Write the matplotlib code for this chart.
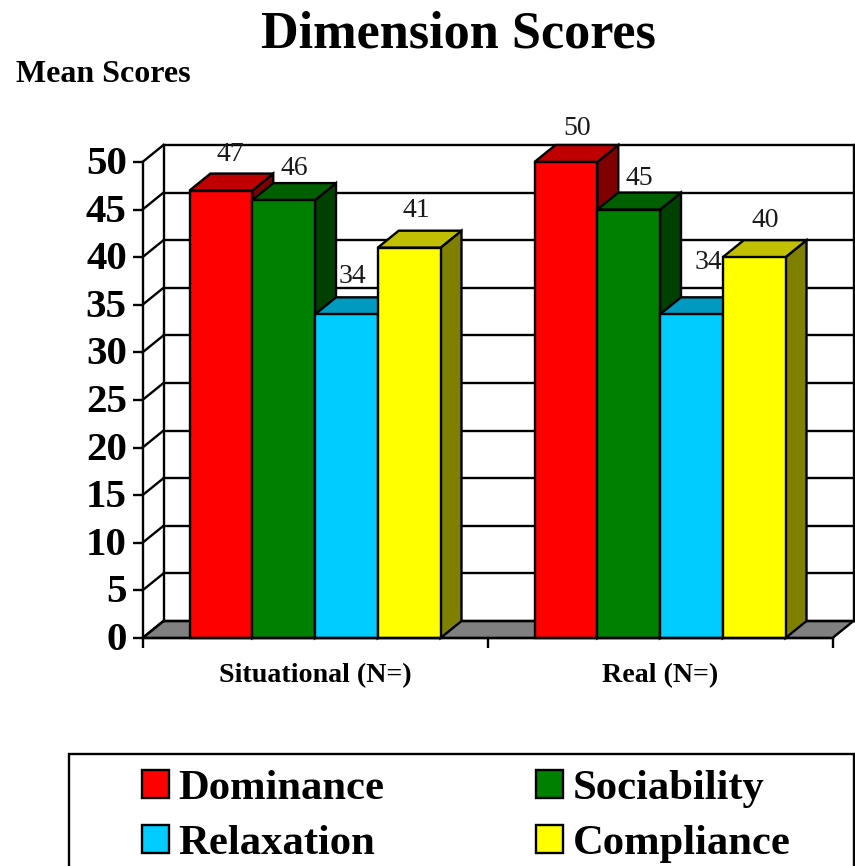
import matplotlib
matplotlib.use("Agg")
import matplotlib.pyplot as plt
from matplotlib.patches import Polygon, Patch, Rectangle
from matplotlib.transforms import ScaledTranslation

categories = ["Situational (N=)", "Real (N=)"]
series = ["Dominance", "Sociability", "Relaxation", "Compliance"]
dominance = [47, 50]
sociability = [46, 45]
relaxation = [34, 34]
compliance = [41, 40]
values = [dominance, sociability, relaxation, compliance]
y_ticks = list(range(0, 51, 5))

front_colors = ["#FF0000", "#008000", "#00CCFF", "#FFFF00"]
top_colors = ["#C00000", "#006000", "#0099C0", "#C0C000"]
side_colors = ["#800000", "#004000", "#006680", "#808000"]

W, H = 855, 866
plt.rcParams["font.family"] = ["Liberation Serif", "DejaVu Serif"]
fig = plt.figure(figsize=(W / 100, H / 100), dpi=100)
L, R, T, B = 142.5, 832.5, 162, 638
ax = fig.add_axes([L / W, 1 - B / H, (R - L) / W, (B - T) / H])
ax.set_xlim(0, 2)
ax.set_ylim(0, 50)

px_x = 2 / (R - L)
px_y = 50 / (B - T)
dx = 21 * px_x
dy = 17 * px_y
lw = 1.7

# back wall
ax.add_patch(Polygon([(dx, dy), (2 + dx, dy), (2 + dx, 50 + dy), (dx, 50 + dy)],
                     fc="white", ec="none", zorder=1, clip_on=False))
ax.add_patch(Polygon([(0, 0), (dx, dy), (2 + dx, dy), (2, 0)],
                     fc="#808080", ec="black", lw=lw, zorder=2, clip_on=False, joinstyle="miter"))
for v in y_ticks:
    ax.plot([dx, 2 + dx], [v + dy, v + dy], color="black", lw=lw, zorder=2, clip_on=False,
            solid_capstyle="projecting")
    ax.plot([0, dx], [v, v + dy], color="black", lw=lw, zorder=2, clip_on=False)
for xx in (dx, 2 + dx):
    ax.plot([xx, xx], [dy, 50 + dy], color="black", lw=lw, zorder=2, clip_on=False,
            solid_capstyle="projecting")

# bars
bar_w = 62.75 * px_x
z = 3
label_nudges = [[(-1, 9), (1, 7)], [(0, 5), (0, 4)], [(-4, 11), (6, 25)], [(-3, 10), (1, 10)]]
for g in range(len(categories)):
    center = g + 0.5
    for s in range(len(series)):
        x0 = center + (s - 2) * bar_w
        x1 = x0 + bar_w
        v = values[s][g]
        ax.add_patch(Polygon([(x1, 0), (x1 + dx, dy), (x1 + dx, v + dy), (x1, v)],
                             fc=side_colors[s], ec="black", lw=lw, zorder=z, clip_on=False))
        ax.add_patch(Polygon([(x0, v), (x0 + dx, v + dy), (x1 + dx, v + dy), (x1, v)],
                             fc=top_colors[s], ec="black", lw=lw, zorder=z, clip_on=False))
        ax.bar(x0, v, width=bar_w, align="edge", color=front_colors[s], edgecolor="black",
               linewidth=lw, zorder=z + 0.5, clip_on=False)
        z += 1
        n = label_nudges[s][g]
        ax.annotate(str(v), xy=(x0 + bar_w / 2 + dx / 2, v + dy), xytext=(n[0] * 0.72, (13 + n[1]) * 0.72),
                    textcoords="offset points", ha="center", va="center_baseline", fontsize=20,
                    color="#1a1a1a", zorder=100, annotation_clip=False)

# axes
for sp in ("top", "right"):
    ax.spines[sp].set_visible(False)
for sp in ("left", "bottom"):
    ax.spines[sp].set_linewidth(lw)
    ax.spines[sp].set_zorder(60)
ax.set_yticks(y_ticks)
ax.tick_params(axis="y", length=7, width=lw, pad=4.3, labelsize=29.5)
lift = ScaledTranslation(0, 2 / 100, fig.dpi_scale_trans)
for t in ax.get_yticklabels():
    t.set_fontweight("bold")
    t.set_transform(t.get_transform() + lift)
ax.set_xticks([0, 1, 2])
ax.set_xticklabels([])
ax.tick_params(axis="x", which="major", length=7, width=lw)
ax.set_xticks([0.5, 1.5], minor=True)
ax.set_xticklabels(categories, minor=True, fontweight="bold", fontsize=20.2)
ax.tick_params(axis="x", which="minor", length=0, pad=18)

fig.text(458 / W, 1 - 34 / H, "Dimension Scores", ha="center", va="center",
         fontsize=37.6, fontweight="bold")
fig.text(16 / W, 1 - 74 / H, "Mean Scores", ha="left", va="center",
         fontsize=23, fontweight="bold")

# legend: frame runs past the figure's bottom edge, as in the reference
fig.add_artist(Rectangle((69 / W, -10 / H), 785 / W, (H - 754 + 10) / H, transform=fig.transFigure,
                         fc="white", ec="black", lw=lw))
order = [0, 2, 1, 3]
handles = [Patch(facecolor=front_colors[i], edgecolor="black", linewidth=lw, label=series[i]) for i in order]
leg = fig.legend(handles=handles, ncol=2, loc="upper left",
                 bbox_to_anchor=(142 / W, 1 - 770 / H), bbox_transform=fig.transFigure,
                 prop={"weight": "bold", "size": 30.7}, frameon=False, borderaxespad=0, borderpad=0,
                 handlelength=0.63, handleheight=0.63, handletextpad=0.23,
                 labelspacing=0.4, columnspacing=3.55)

fig.savefig("out.png", dpi=100)
